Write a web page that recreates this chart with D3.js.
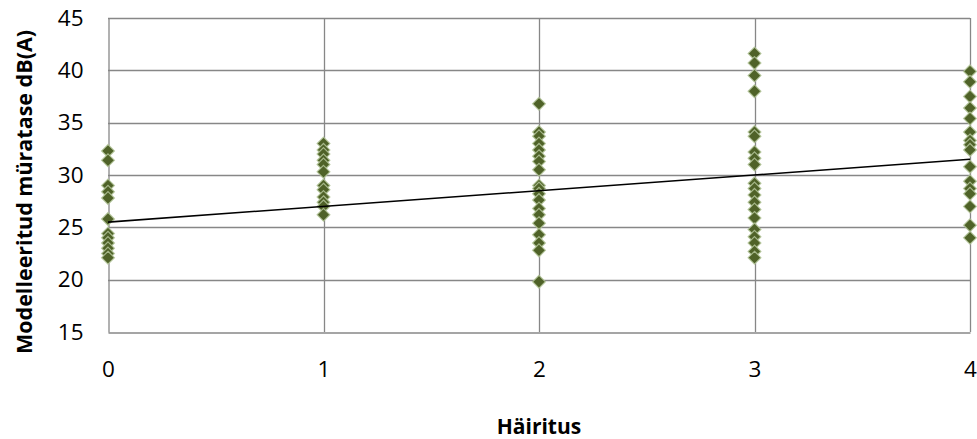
<!DOCTYPE html>
<html><head><meta charset="utf-8">
<script src="https://cdn.jsdelivr.net/npm/d3@7"></script>
<style>
html,body{margin:0;padding:0;background:#fff;}
svg text{font-family:"Open Sans",sans-serif;fill:#000;}
</style></head>
<body><div id="chart"></div>
<script>
const xCategories = [0, 1, 2, 3, 4];
const yTicks = [15, 20, 25, 30, 35, 40, 45];
const values0 = [32.3, 31.4, 29.0, 28.4, 27.8, 25.8, 24.4, 24.0, 23.5, 23.0, 22.5, 22.1];
const values1 = [33.0, 32.4, 32.0, 31.4, 31.0, 30.3, 29.0, 28.6, 27.9, 27.4, 27.0, 26.2];
const values2 = [36.8, 34.1, 33.7, 33.0, 32.4, 31.8, 31.3, 30.5, 29.0, 28.7, 28.2, 27.6, 26.8, 26.2, 25.4, 24.3, 23.5, 22.8, 19.8];
const values3 = [41.6, 40.7, 39.5, 38.0, 34.1, 33.7, 32.2, 31.6, 31.0, 29.2, 28.7, 28.1, 27.4, 26.7, 25.9, 24.8, 24.1, 23.5, 22.7, 22.1];
const values4 = [39.9, 38.9, 37.5, 36.4, 35.4, 34.1, 33.3, 32.9, 32.4, 30.8, 29.4, 28.7, 28.2, 27.0, 25.2, 24.0];
const trendStart = 25.5; // value of trend line at x = 0
const trendEnd = 31.5;   // value of trend line at x = 4
const xTitle = "Häiritus";
const yTitle = "Modelleeritud müratase dB(A)";

const W = 977, H = 439;
const M = {left: 108, right: 970, top: 18, bottom: 332};
const svg = d3.select("#chart").append("svg").attr("width", W).attr("height", H);

const x = d3.scaleLinear().domain([0, 4]).range([M.left, M.right]);
const y = d3.scaleLinear().domain([15, 45]).range([M.bottom, M.top]);

const grid = "#878787";
svg.append("g").selectAll("line").data(yTicks.slice(1)).join("line")
  .attr("x1", M.left).attr("x2", M.right)
  .attr("y1", d => Math.round(y(d)) + 0.5).attr("y2", d => Math.round(y(d)) + 0.5)
  .attr("stroke", grid).attr("stroke-width", 1.3);
svg.append("g").selectAll("line").data(xCategories.slice(1)).join("line")
  .attr("x1", d => Math.round(x(d)) + 0.5).attr("x2", d => Math.round(x(d)) + 0.5)
  .attr("y1", M.top).attr("y2", M.bottom)
  .attr("stroke", grid).attr("stroke-width", 1.3);

const yAxis = d3.axisLeft(y).tickValues(yTicks).tickFormat(d3.format("d")).tickSize(0).tickPadding(25);
const gy = svg.append("g").attr("transform", `translate(${M.left + 0.5},0)`).call(yAxis);
gy.select(".domain").attr("stroke", grid).attr("stroke-width", 1.3);
gy.selectAll("text").style("font-size", "22.5px").attr("fill", "#000");

const xAxis = d3.axisBottom(x).tickValues(xCategories).tickFormat(d3.format("d")).tickSize(0).tickPadding(29);
const gx = svg.append("g").attr("transform", `translate(0,${M.bottom + 0.5})`).call(xAxis);
gx.select(".domain").attr("stroke", grid).attr("stroke-width", 1.3);
gx.selectAll("text").style("font-size", "22.5px").attr("fill", "#000");

const series = [values0, values1, values2, values3, values4];
const pts = [];
series.forEach((vals, i) => vals.forEach(v => pts.push({x: xCategories[i], v})));
const diamond = d3.symbol().type(d3.symbolDiamond2).size(105);
svg.append("g").selectAll("path").data(pts).join("path")
  .attr("d", diamond)
  .attr("transform", d => `translate(${x(d.x)},${y(d.v)})`)
  .attr("fill", "#4F6228")
  .attr("stroke", "#b4c59a")
  .attr("stroke-opacity", 0.85)
  .attr("stroke-width", 1.2);

svg.append("line")
  .attr("x1", x(0)).attr("y1", y(trendStart))
  .attr("x2", x(4)).attr("y2", y(trendEnd))
  .attr("stroke", "#000").attr("stroke-width", 1.6);

svg.append("text").attr("x", 539).attr("y", 434).attr("text-anchor", "middle")
  .style("font-size", "21px").style("font-weight", "bold").text(xTitle);
svg.append("text").attr("transform", "translate(32,192) rotate(-90)")
  .attr("text-anchor", "middle")
  .style("font-size", "21.5px").style("font-weight", "bold").text(yTitle);
</script></body></html>
